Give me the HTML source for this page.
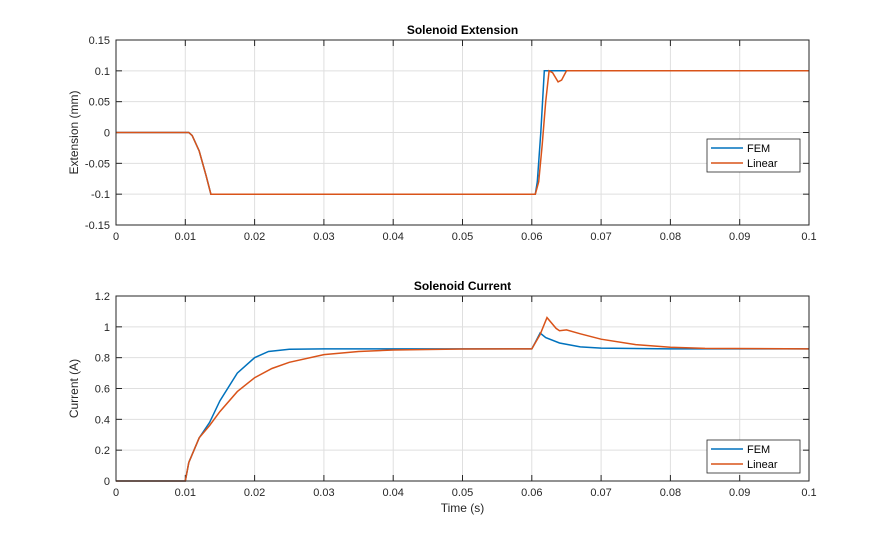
<!DOCTYPE html>
<html><head><meta charset="utf-8"><style>
body{margin:0;background:#fff;}
svg text{font-family:"Liberation Sans",Arial,sans-serif;}
</style></head><body>
<svg id="c" width="895" height="540" xmlns="http://www.w3.org/2000/svg"></svg>
<script>
const xTicks=[0,0.01,0.02,0.03,0.04,0.05,0.06,0.07,0.08,0.09,0.1];
const xTickLabels=["0","0.01","0.02","0.03","0.04","0.05","0.06","0.07","0.08","0.09","0.1"];
const extTicks=[-0.15,-0.1,-0.05,0,0.05,0.1,0.15];
const extTickLabels=["-0.15","-0.1","-0.05","0","0.05","0.1","0.15"];
const curTicks=[0,0.2,0.4,0.6,0.8,1,1.2];
const curTickLabels=["0","0.2","0.4","0.6","0.8","1","1.2"];
const extFemT=[0,0.0105,0.011,0.012,0.013,0.0137,0.0605,0.0608,0.0613,0.0618,0.1];
const extFemV=[0,0,-0.005,-0.03,-0.07,-0.1,-0.1,-0.08,0,0.1,0.1];
const extLinT=[0,0.0105,0.011,0.012,0.013,0.0137,0.0605,0.061,0.0615,0.062,0.0625,0.063,0.0638,0.0643,0.065,0.1];
const extLinV=[0,0,-0.005,-0.03,-0.07,-0.1,-0.1,-0.08,-0.02,0.05,0.1,0.097,0.082,0.085,0.1,0.1];
const curFemT=[0,0.01,0.0105,0.012,0.0135,0.015,0.0175,0.02,0.022,0.025,0.03,0.06,0.0605,0.0612,0.062,0.064,0.067,0.07,0.08,0.1];
const curFemV=[0,0,0.12,0.28,0.38,0.52,0.7,0.8,0.84,0.855,0.857,0.857,0.9,0.96,0.93,0.895,0.87,0.862,0.857,0.857];
const curLinT=[0,0.01,0.0105,0.012,0.0135,0.015,0.0175,0.02,0.0225,0.025,0.03,0.035,0.04,0.05,0.06,0.0612,0.0622,0.0635,0.064,0.065,0.067,0.07,0.075,0.08,0.085,0.1];
const curLinV=[0,0,0.12,0.28,0.36,0.45,0.58,0.67,0.73,0.77,0.82,0.84,0.85,0.856,0.857,0.95,1.06,0.99,0.975,0.98,0.955,0.92,0.885,0.868,0.86,0.857];

const svg=document.getElementById('c');const NS="http://www.w3.org/2000/svg";
function mk(t,a,p){const e=document.createElementNS(NS,t);for(const k in a)e.setAttribute(k,a[k]);(p||svg).appendChild(e);return e;}
const L=116,R=809;
function panel(name,top,bot,ymin,ymax,yt,ytl,title,ylabel,series,legY,showX){
  const g=mk('g',{});
  
  
  const sx=v=>L+(v-0)/(0.1)*(R-L);
  const sy=v=>bot-(v-ymin)/(ymax-ymin)*(bot-top);
  mk('rect',{x:L,y:top,width:R-L,height:bot-top,fill:'#fff'},g);
  xTicks.forEach((t,i)=>{const x=sx(t);
    mk('line',{x1:x,x2:x,y1:top,y2:bot,stroke:'#dfdfdf','stroke-width':1},g);
    mk('line',{x1:x,x2:x,y1:bot,y2:bot-6,stroke:'#262626'},g);
    mk('line',{x1:x,x2:x,y1:top,y2:top+6,stroke:'#262626'},g);
    const tx=mk('text',{x:x,y:bot+15,'font-size':11,'text-anchor':'middle',fill:'#262626'},g);tx.textContent=xTickLabels[i];
    
    });
  yt.forEach((t,i)=>{const y=sy(t);
    mk('line',{x1:L,x2:R,y1:y,y2:y,stroke:'#dfdfdf'},g);
    mk('line',{x1:L,x2:L+6,y1:y,y2:y,stroke:'#262626'},g);
    mk('line',{x1:R,x2:R-6,y1:y,y2:y,stroke:'#262626'},g);
    const tx=mk('text',{x:L-6,y:y+4,'font-size':11,'text-anchor':'end',fill:'#262626'},g);tx.textContent=ytl[i];
    
    });
  const cols=['#0072bd','#d95319'];
  series.forEach((s,k)=>{const p=s[0].map((t,i)=>sx(t).toFixed(1)+','+sy(s[1][i]).toFixed(1)).join(' ');
    const pl=mk('polyline',{points:p,fill:'none',stroke:cols[k],'stroke-width':1.5},g);
    
    });
  mk('rect',{x:L,y:top,width:R-L,height:bot-top,fill:'none',stroke:'#262626'},g);
  const ti=mk('text',{x:(L+R)/2,y:top-6,'font-size':12,'font-weight':'bold','text-anchor':'middle',fill:'#000'},g);ti.textContent=title;
  
  
  const yl=mk('text',{x:0,y:0,'font-size':12,'text-anchor':'middle',fill:'#262626',transform:`translate(${L-38},${(top+bot)/2}) rotate(-90)`},g);yl.textContent=ylabel;
  
  
  if(showX){const xl=mk('text',{x:(L+R)/2,y:bot+31,'font-size':12,'text-anchor':'middle',fill:'#262626'},g);xl.textContent='Time (s)';
    
    }
  const lg=mk('g',{},g);
  
  
  mk('rect',{x:707,y:legY,width:93,height:33,fill:'#fff',stroke:'#262626','stroke-width':0.8},lg);
  ['FEM','Linear'].forEach((n,k)=>{const y=legY+9+k*15;
    mk('line',{x1:711,x2:743,y1:y,y2:y,stroke:cols[k],'stroke-width':1.5},lg);
    const t=mk('text',{x:747,y:y+4,'font-size':11,fill:'#000'},lg);t.textContent=n;
    
    });
}
panel('extension-chart',40,225,-0.15,0.15,extTicks,extTickLabels,'Solenoid Extension','Extension (mm)',[[extFemT,extFemV],[extLinT,extLinV]],139,false);
panel('current-chart',296,481,0,1.2,curTicks,curTickLabels,'Solenoid Current','Current (A)',[[curFemT,curFemV],[curLinT,curLinV]],440,true);
</script>
</body></html>
